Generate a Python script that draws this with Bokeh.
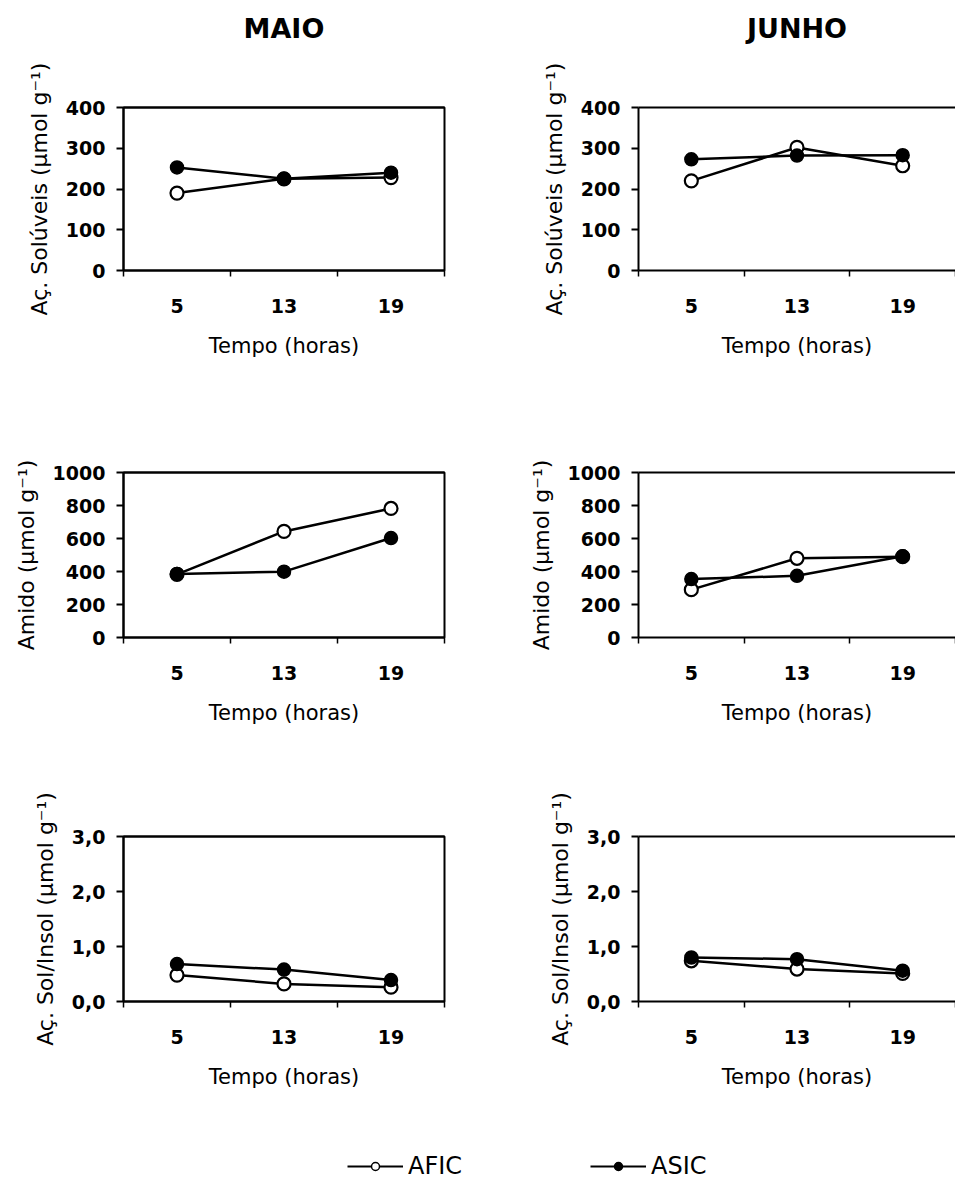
from bokeh.plotting import figure
from bokeh.models import (Range1d, FixedTicker, LinearAxis, Legend, LegendItem)
from bokeh.layouts import column, row
from bokeh.embed import file_html
from bokeh.resources import INLINE

# ---------------- data ----------------
horas = [5, 13, 19]
meses = ["MAIO", "JUNHO"]
series = ["AFIC", "ASIC"]

sol_afic_maio = [190, 225, 228]
sol_asic_maio = [253, 225, 240]
sol_afic_junho = [220, 302, 257]
sol_asic_junho = [273, 282, 283]

amido_afic_maio = [383, 643, 782]
amido_asic_maio = [385, 399, 603]
amido_afic_junho = [290, 480, 490]
amido_asic_junho = [354, 374, 492]

razao_afic_maio = [0.48, 0.32, 0.26]
razao_asic_maio = [0.68, 0.58, 0.39]
razao_afic_junho = [0.74, 0.59, 0.51]
razao_asic_junho = [0.80, 0.77, 0.56]

y_labels = ["Aç. Solúveis (µmol g⁻¹)", "Amido (µmol g⁻¹)", "Aç. Sol/Insol (µmol g⁻¹)"]
y_ticks_sol = [0, 100, 200, 300, 400]
y_ticks_amido = [0, 200, 400, 600, 800, 1000]
y_ticks_razao = [0, 1, 2, 3]
y_ticklabels_razao = ["0,0", "1,0", "2,0", "3,0"]
x_label = "Tempo (horas)"

# ---------------- layout geometry ----------------
FONT = "DejaVu Sans"
ROWS = [dict(h=420, bt=107, fh=163), dict(h=350, bt=52, fh=165), dict(h=340, bt=66, fh=165)]
COLS = [dict(w=480, bl=123, br=36), dict(w=475, bl=158, br=0)]

xpos = [i + 0.5 for i in range(len(horas))]
xbounds = list(range(len(horas) + 1))


def make_panel(afic, asic, yticks, ylabel, col, rowi, tick_labels=None, title=None):
    g = ROWS[rowi]
    c = COLS[col]
    p = figure(width=c["w"], height=g["h"], output_backend="svg", toolbar_location=None,
               x_range=Range1d(xbounds[0], xbounds[-1]), y_range=Range1d(yticks[0], yticks[-1]),
               x_axis_type=None, y_axis_type=None,
               min_border_left=c["bl"], min_border_right=c["br"],
               min_border_top=g["bt"], min_border_bottom=g["h"] - g["bt"] - g["fh"])
    p.xgrid.visible = False
    p.ygrid.visible = False
    p.background_fill_color = "white"
    p.border_fill_color = "white"
    if col == 0:
        p.outline_line_color = "black"
        p.outline_line_width = 2
    else:
        p.outline_line_color = None

    top = LinearAxis(ticker=FixedTicker(ticks=[]), axis_line_width=2, axis_line_color="black",
                     major_tick_line_color=None, minor_tick_line_color=None,
                     major_tick_out=0, major_tick_in=0, minor_tick_out=0, minor_tick_in=0,
                     major_label_text_font_size="0px")
    if title is not None:
        top.axis_label = title
        top.axis_label_standoff = 64
        top.axis_label_text_font = FONT
        top.axis_label_text_font_style = "bold"
        top.axis_label_text_font_size = "27px"
        top.axis_label_text_color = "black"
    p.add_layout(top, "above")

    xa = LinearAxis(ticker=FixedTicker(ticks=xpos, minor_ticks=xbounds),
                    major_label_overrides={xp: str(h) for xp, h in zip(xpos, horas)},
                    axis_label=x_label)
    xa.axis_line_width = 2
    xa.major_tick_line_color = None
    xa.major_tick_out = 0
    xa.major_tick_in = 0
    xa.minor_tick_line_color = "black"
    xa.minor_tick_line_width = 1.5
    xa.minor_tick_out = 6
    xa.minor_tick_in = 0
    xa.major_label_standoff = 22
    xa.major_label_text_font = FONT
    xa.major_label_text_font_style = "bold"
    xa.major_label_text_font_size = "19px"
    xa.major_label_text_color = "black"
    xa.axis_label_standoff = 18
    xa.axis_label_text_font = FONT
    xa.axis_label_text_font_style = "normal"
    xa.axis_label_text_font_size = "21px"
    xa.axis_label_text_color = "black"
    p.add_layout(xa, "below")

    ya = LinearAxis(ticker=FixedTicker(ticks=yticks), axis_label=ylabel)
    if tick_labels is not None:
        ya.major_label_overrides = {t: l for t, l in zip(yticks, tick_labels)}
    ya.axis_line_width = 2
    ya.major_tick_line_width = 2
    ya.major_tick_out = 7
    ya.major_tick_in = 0
    ya.minor_tick_line_color = None
    ya.major_label_standoff = 11
    ya.major_label_text_font = FONT
    ya.major_label_text_font_style = "bold"
    ya.major_label_text_font_size = "19px"
    ya.major_label_text_color = "black"
    ya.axis_label_standoff = 11
    ya.axis_label_text_font = FONT
    ya.axis_label_text_font_style = "normal"
    ya.axis_label_text_font_size = "22px"
    ya.axis_label_text_color = "black"
    p.add_layout(ya, "left")

    # AFIC (open) then ASIC (filled)
    p.line(xpos, afic, line_color="black", line_width=2.5)
    p.scatter(xpos, afic, marker="circle", size=13, fill_color="white", line_color="black", line_width=2.2)
    p.line(xpos, asic, line_color="black", line_width=2.5)
    p.scatter(xpos, asic, marker="circle", size=13, fill_color="black", line_color="black", line_width=1.5)
    return p


panels = [
    [make_panel(sol_afic_maio, sol_asic_maio, y_ticks_sol, y_labels[0], 0, 0, title=meses[0]),
     make_panel(sol_afic_junho, sol_asic_junho, y_ticks_sol, y_labels[0], 1, 0, title=meses[1])],
    [make_panel(amido_afic_maio, amido_asic_maio, y_ticks_amido, y_labels[1], 0, 1),
     make_panel(amido_afic_junho, amido_asic_junho, y_ticks_amido, y_labels[1], 1, 1)],
    [make_panel(razao_afic_maio, razao_asic_maio, y_ticks_razao, y_labels[2], 0, 2, tick_labels=y_ticklabels_razao),
     make_panel(razao_afic_junho, razao_asic_junho, y_ticks_razao, y_labels[2], 1, 2, tick_labels=y_ticklabels_razao)],
]

# ---------------- legend strip ----------------
nan = float("nan")
lg = figure(width=955, height=70, output_backend="svg", toolbar_location=None,
            x_range=Range1d(0, 1), y_range=Range1d(0, 1), x_axis_type=None, y_axis_type=None,
            min_border_left=0, min_border_right=0, min_border_top=0, min_border_bottom=0)
lg.outline_line_color = None
lg.xgrid.visible = False
lg.ygrid.visible = False
l1 = lg.line([nan], [nan], line_color="black", line_width=1.8)
s1 = lg.scatter([nan], [nan], marker="circle", size=8, fill_color="white", line_color="black", line_width=1.5)
l2 = lg.line([nan], [nan], line_color="black", line_width=1.8)
s2 = lg.scatter([nan], [nan], marker="circle", size=8, fill_color="black", line_color="black", line_width=1.5)
legend = Legend(items=[LegendItem(label=series[0], renderers=[l1, s1]),
                       LegendItem(label=series[1], renderers=[l2, s2])],
                orientation="horizontal", location=(347, 0),
                glyph_width=56, glyph_height=20, label_standoff=5, spacing=128,
                padding=0, margin=0, border_line_color=None, background_fill_alpha=0,
                label_text_font=FONT, label_text_font_size="24px", label_text_color="black")
lg.add_layout(legend, "center")

layout = column(row(*panels[0]), row(*panels[1]), row(*panels[2]), lg)

open("out.html", "w").write(file_html(layout, INLINE))
